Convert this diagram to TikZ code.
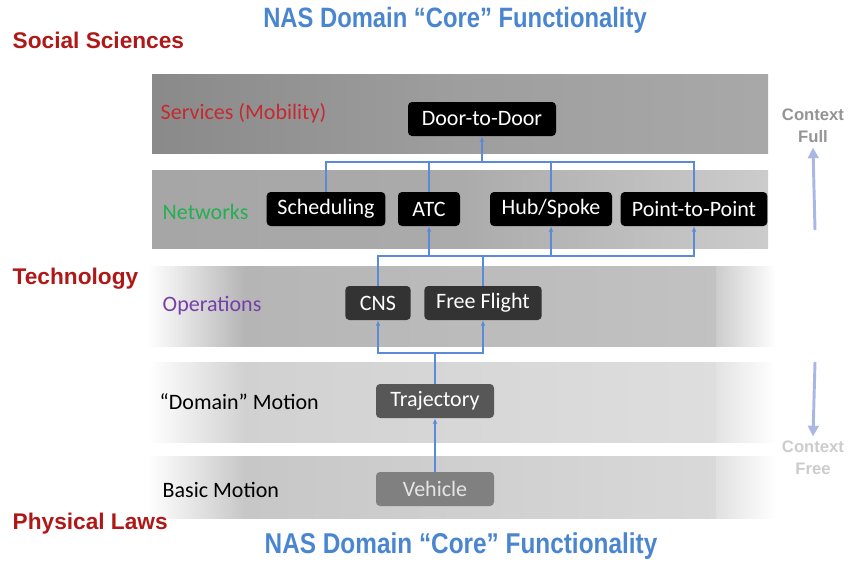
\documentclass[tikz,border=0pt]{standalone}
\usepackage{fontspec}
\setmainfont{Carlito}
\newfontfamily\headfont{Liberation Sans}
\newfontfamily\narrowfont[FakeStretch=0.85]{Liberation Sans}
\usetikzlibrary{arrows.meta}

\definecolor{linkblue}{HTML}{5A8AD8}
\definecolor{titleblue}{HTML}{4A86D0}
\definecolor{layerred}{HTML}{B01818}
\definecolor{servred}{HTML}{C42A30}
\definecolor{netgreen}{HTML}{22B050}
\definecolor{opspurple}{HTML}{7440A8}
\definecolor{ctxarrow}{HTML}{AAB6E6}

\tikzset{
  box/.style={rounded corners=3pt, fill=black, text=white, font=\fontsize{16.5}{19}\selectfont,
    minimum height=25.5pt, inner sep=2pt},
  link/.style={draw=linkblue, line width=1.1pt},
  tip/.style={-{Latex[length=4pt,width=3.5pt]}},
  bandlabel/.style={anchor=west, font=\fontsize{16.5}{19}\selectfont},
  layer/.style={anchor=west, text=layerred, font=\headfont\bfseries\fontsize{17}{20}\selectfont},
  heading/.style={text=titleblue, font=\narrowfont\bfseries\fontsize{21}{24}\selectfont},
  context/.style={align=center, font=\headfont\bfseries\fontsize{12.5}{16.5}\selectfont}
}

\begin{document}
\begin{tikzpicture}[x=0.75pt, y=-0.75pt]
\useasboundingbox (0,0) rectangle (850,561);

% bands
\shade[left color=black!46, right color=black!34, middle color=black!38] (152,74) rectangle (768,153);
\shade[left color=black!35, right color=black!20, middle color=black!33] (152,170) rectangle (768,248);
\shade[left color=white, right color=black!29] (148,266) rectangle (245,346);
\shade[left color=black!29, right color=black!24] (245,266) rectangle (716,346);
\shade[left color=black!20, right color=white] (716,266) rectangle (776,346);
\shade[left color=white, right color=black!18] (148,362) rectangle (245,442);
\shade[left color=black!18, right color=black!13] (245,362) rectangle (716,442);
\shade[left color=black!11, right color=white] (716,362) rectangle (776,442);
\shade[left color=white, right color=black!22] (148,456) rectangle (245,518);
\shade[left color=black!22, right color=black!15] (245,456) rectangle (716,518);
\shade[left color=black!12, right color=white] (716,456) rectangle (776,518);

% titles and layer names
\node[heading] (ttop) at (455,20) {NAS Domain “Core” Functionality};
\node[heading, font=\narrowfont\bfseries\fontsize{21.5}{24}\selectfont] (tbot) at (461,546) {NAS Domain “Core” Functionality};
\node[layer] (social) at (8,40) {Social Sciences};
\node[layer] (techno) at (8,279) {Technology};
\node[layer] (phys) at (8,524) {Physical Laws};

\node[bandlabel, text=servred] (lserv) at (156,113) {Services (Mobility)};
\node[bandlabel, text=netgreen] (lnet) at (158,212) {Networks};
\node[bandlabel, text=opspurple] (lops) at (158,306) {Operations};
\node[bandlabel] (ldom) at (155,402) {“Domain” Motion};
\node[bandlabel] (lbas) at (158,490) {Basic Motion};

% boxes
\node[box, minimum width=111pt] (dtd) at (482,119) {Door-to-Door};
\node[box, minimum width=89pt] (sched) at (326,209) {Scheduling};
\node[box, minimum width=46.5pt] (atc) at (429,209) {ATC};
\node[box, minimum width=91.5pt] (hub) at (551,209) {Hub/Spoke};
\node[box, minimum width=110pt] (ptp) at (694,209) {Point-to-Point};
\node[box, fill=black!80, minimum width=49pt] (cns) at (378,303) {CNS};
\node[box, fill=black!80, minimum width=88pt] (ff) at (483,303) {Free Flight};
\node[box, fill=black!66, minimum width=88.5pt] (traj) at (435,401) {Trajectory};
\node[box, fill=black!50, text=black!10, minimum width=88.5pt] (veh) at (435,489) {Vehicle};

% connectors
\coordinate (busA) at (482,162);
\coordinate (busB) at (483,256);
\coordinate (busC) at (435,353);

\draw[link] (sched.north) |- (busA) -| (ptp.north);
\draw[link] (atc.north) -- (atc.north |- busA);
\draw[link] (hub.north) -- (hub.north |- busA);
\draw[link, tip] (busA) -- (dtd.south);

\draw[link, tip] (cns.north) |- (busB) -| (ptp.south);
\draw[link] (ff.north) -- (busB);
\draw[link, tip] (atc.south |- busB) -- (atc.south);
\draw[link, tip] (hub.south |- busB) -- (hub.south);

\draw[link] (traj.north) -- (busC);
\draw[link, tip] (busC) -| (cns.south);
\draw[link, tip] (busC) -| (ff.south);

\draw[link, tip] (veh.north) -- (traj.south);

% context
\node[context, text=black!42] (cfull) at (813,126) {Context\\Full};
\node[context, text=black!20] (cfree) at (813,458) {Context\\Free};
\coordinate (upfrom) at (815,230);
\coordinate (downfrom) at (815,362);
\draw[ctxarrow, line width=2.2pt, -{Triangle[length=8pt,width=8pt]}] (upfrom) -- (cfull.south);
\draw[ctxarrow, line width=2.2pt, -{Triangle[length=8pt,width=8pt]}] (downfrom) -- (cfree.north);
\end{tikzpicture}
\end{document}
